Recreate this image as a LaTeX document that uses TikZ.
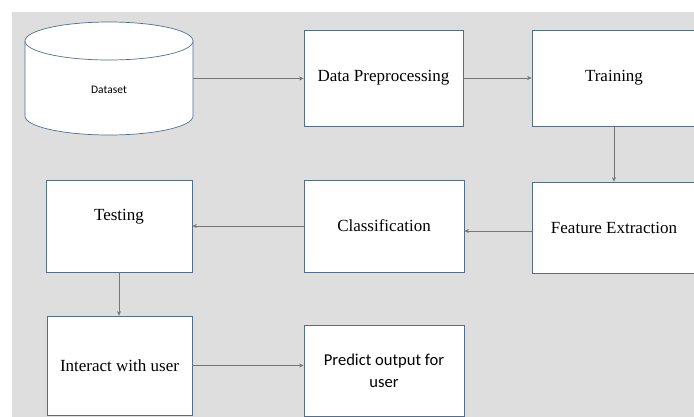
\documentclass[tikz,border=0pt]{standalone}
\usepackage{fontspec}
\setmainfont{Liberation Serif}
\newfontfamily\sansfont{Carlito}
\usetikzlibrary{arrows.meta}

\definecolor{bggrey}{RGB}{222,222,222}
\definecolor{boxline}{RGB}{84,110,138}
\definecolor{arrowgrey}{RGB}{118,118,118}

\begin{document}
\begin{tikzpicture}[
    x=1pt, y=-1pt,
    boxtext/.style={font=\fontsize{17}{20}\selectfont},
    box/.style={draw=boxline, line width=0.7pt, fill=white, rectangle, inner sep=2pt, align=center, boxtext},
    flow/.style={-{Stealth[length=4.5pt, width=4pt]}, draw=arrowgrey, line width=0.7pt},
    can/.style={draw=boxline, line width=0.7pt, fill=white},
]
\useasboundingbox (0,0) rectangle (694,417);
\fill[bggrey] (12,12) rectangle (694,417);

% Cylinder
\filldraw[can] (25,41) -- (25,116) arc[start angle=180, end angle=0, x radius=84, y radius=19] -- (193,41);
\filldraw[can] (109,41) ellipse [x radius=84, y radius=19];

% Nodes
\node[minimum width=168, minimum height=113, inner sep=0pt,
      label={[font=\sansfont\fontsize{11.5}{13}\selectfont, yshift=-11.5]center:Dataset}] (dataset) at (109,78.5) {};
\node[box, minimum width=159, minimum height=96] (preproc) at (383.5,78) {Data Preprocessing};
\node[box, minimum width=164, minimum height=96] (training) at (614,78) {Training};
\node[box, minimum width=164, minimum height=91] (feature) at (614,227.5) {Feature Extraction};
\node[box, minimum width=160, minimum height=92] (classif) at (384,226) {Classification};
\node[box, minimum width=146, minimum height=92,
      label={[boxtext, yshift=9]center:Testing}] (testing) at (119,226) {};
\node[box, minimum width=145, minimum height=99] (interact) at (119.5,365.5) {Interact with user};
\node[box, font=\sansfont\fontsize{16.6}{22}\selectfont, minimum width=160, minimum height=91] (predict) at (384,370.5) {Predict output for\\user};

% Edges
\draw[flow] (dataset.east) -- (dataset.east -| preproc.west);
\draw[flow] (preproc.east) -- (preproc.east -| training.west);
\draw[flow] (training.south) -- (training.south |- feature.north);
\draw[flow] ([yshift=-3.5]feature.west) -- ([yshift=-3.5]feature.west -| classif.east);
\draw[flow] (classif.west) -- (classif.west -| testing.east);
\draw[flow] (testing.south) -- (testing.south |- interact.north);
\draw[flow] (interact.east) -- (interact.east -| predict.west);

\end{tikzpicture}
\end{document}
